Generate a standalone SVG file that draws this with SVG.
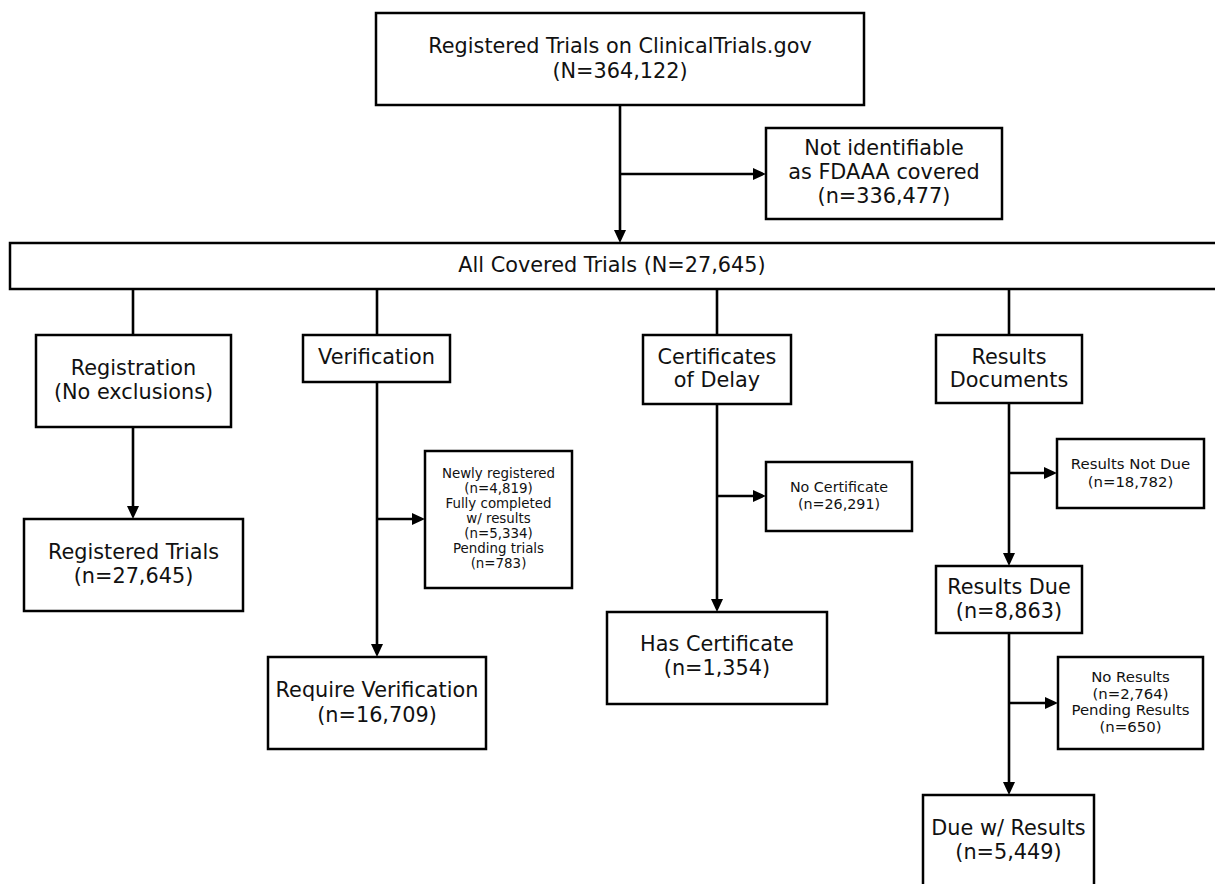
<svg xmlns="http://www.w3.org/2000/svg" width="1215" height="884" viewBox="0 0 1215 884">
  <style>
    .box { fill: #ffffff; stroke: #000000; stroke-width: 2.5; }
    .lbl { font-family: "DejaVu Sans", "Liberation Sans", sans-serif; font-size: 20.8px; fill: #111111; text-anchor: middle; }
    .sm13 { font-size: 13.4px; }
    .sm14 { font-size: 14.3px; }
    .sm15 { font-size: 14.9px; }
    .conn path { fill: none; stroke: #000000; stroke-width: 2.6; }
  </style>
  <defs>
    <marker id="arrow" viewBox="0 0 13 12" refX="5" refY="6" markerWidth="13" markerHeight="12" markerUnits="userSpaceOnUse" orient="auto">
      <path d="M0,0 L13,6 L0,12 Z" fill="#000000"/>
    </marker>
  </defs>
  <rect width="1215" height="884" fill="#ffffff"/>

  <!-- nodes -->
  <g id="registered-all">
    <rect class="box" x="376" y="13" width="488" height="92"/>
    <text class="lbl"><tspan x="620" y="53">Registered Trials on ClinicalTrials.gov</tspan><tspan x="620" y="78">(N=364,122)</tspan></text>
  </g>
  <g id="not-covered">
    <rect class="box" x="766" y="128" width="236" height="91"/>
    <text class="lbl"><tspan x="884" y="155">Not identifiable</tspan><tspan x="884" y="179">as FDAAA covered</tspan><tspan x="884" y="203">(n=336,477)</tspan></text>
  </g>
  <g id="all-covered">
    <rect class="box" x="10" y="243" width="1212" height="46"/>
    <text class="lbl" x="612" y="272">All Covered Trials (N=27,645)</text>
  </g>
  <g id="registration">
    <rect class="box" x="36" y="335" width="195" height="92"/>
    <text class="lbl"><tspan x="133.5" y="375">Registration</tspan><tspan x="133.5" y="399">(No exclusions)</tspan></text>
  </g>
  <g id="registered-trials">
    <rect class="box" x="24" y="519" width="219" height="92"/>
    <text class="lbl"><tspan x="133.5" y="559">Registered Trials</tspan><tspan x="133.5" y="583">(n=27,645)</tspan></text>
  </g>
  <g id="verification">
    <rect class="box" x="303" y="335" width="147" height="47"/>
    <text class="lbl" x="376.5" y="364">Verification</text>
  </g>
  <g id="verification-excluded">
    <rect class="box" x="425" y="451" width="147" height="137"/>
    <text class="lbl sm13"><tspan x="498.5" y="477.5">Newly registered</tspan><tspan x="498.5" y="492.5">(n=4,819)</tspan><tspan x="498.5" y="507.5">Fully completed</tspan><tspan x="498.5" y="522.5">w/ results</tspan><tspan x="498.5" y="537.5">(n=5,334)</tspan><tspan x="498.5" y="552.5">Pending trials</tspan><tspan x="498.5" y="567.5">(n=783)</tspan></text>
  </g>
  <g id="require-verification">
    <rect class="box" x="268" y="657" width="218" height="92"/>
    <text class="lbl"><tspan x="377" y="697">Require Verification</tspan><tspan x="377" y="722">(n=16,709)</tspan></text>
  </g>
  <g id="certificates">
    <rect class="box" x="643" y="335" width="148" height="69"/>
    <text class="lbl"><tspan x="717" y="364">Certificates</tspan><tspan x="717" y="387">of Delay</tspan></text>
  </g>
  <g id="no-certificate">
    <rect class="box" x="766" y="462" width="146" height="69"/>
    <text class="lbl sm14"><tspan x="839" y="492">No Certificate</tspan><tspan x="839" y="509">(n=26,291)</tspan></text>
  </g>
  <g id="has-certificate">
    <rect class="box" x="607" y="612" width="220" height="92"/>
    <text class="lbl"><tspan x="717" y="651">Has Certificate</tspan><tspan x="717" y="675">(n=1,354)</tspan></text>
  </g>
  <g id="results-documents">
    <rect class="box" x="936" y="335" width="146" height="68"/>
    <text class="lbl"><tspan x="1009" y="364">Results</tspan><tspan x="1009" y="387">Documents</tspan></text>
  </g>
  <g id="results-not-due">
    <rect class="box" x="1057" y="439" width="147" height="69"/>
    <text class="lbl sm15"><tspan x="1130.5" y="469">Results Not Due</tspan><tspan x="1130.5" y="487">(n=18,782)</tspan></text>
  </g>
  <g id="results-due">
    <rect class="box" x="936" y="566" width="146" height="67"/>
    <text class="lbl"><tspan x="1009" y="594">Results Due</tspan><tspan x="1009" y="618">(n=8,863)</tspan></text>
  </g>
  <g id="no-results">
    <rect class="box" x="1058" y="657" width="145" height="92"/>
    <text class="lbl sm15"><tspan x="1130.5" y="682">No Results</tspan><tspan x="1130.5" y="699">(n=2,764)</tspan><tspan x="1130.5" y="715">Pending Results</tspan><tspan x="1130.5" y="732">(n=650)</tspan></text>
  </g>
  <g id="due-with-results">
    <rect class="box" x="923" y="795" width="171" height="110"/>
    <text class="lbl"><tspan x="1008.5" y="835">Due w/ Results</tspan><tspan x="1008.5" y="859">(n=5,449)</tspan></text>
  </g>

  <!-- connectors -->
  <g id="connectors" class="conn">
    <path d="M620,105 V235" marker-end="url(#arrow)"/>
    <path d="M620,174 H758" marker-end="url(#arrow)"/>
    <path d="M133,289 V335"/>
    <path d="M377,289 V335"/>
    <path d="M717,289 V335"/>
    <path d="M1009,289 V335"/>
    <path d="M133,427 V511" marker-end="url(#arrow)"/>
    <path d="M377,382 V649" marker-end="url(#arrow)"/>
    <path d="M377,519 H417" marker-end="url(#arrow)"/>
    <path d="M717,404 V604" marker-end="url(#arrow)"/>
    <path d="M717,496 H758" marker-end="url(#arrow)"/>
    <path d="M1009,403 V558" marker-end="url(#arrow)"/>
    <path d="M1009,473 H1049" marker-end="url(#arrow)"/>
    <path d="M1009,633 V787" marker-end="url(#arrow)"/>
    <path d="M1009,703 H1050" marker-end="url(#arrow)"/>
  </g>
</svg>
